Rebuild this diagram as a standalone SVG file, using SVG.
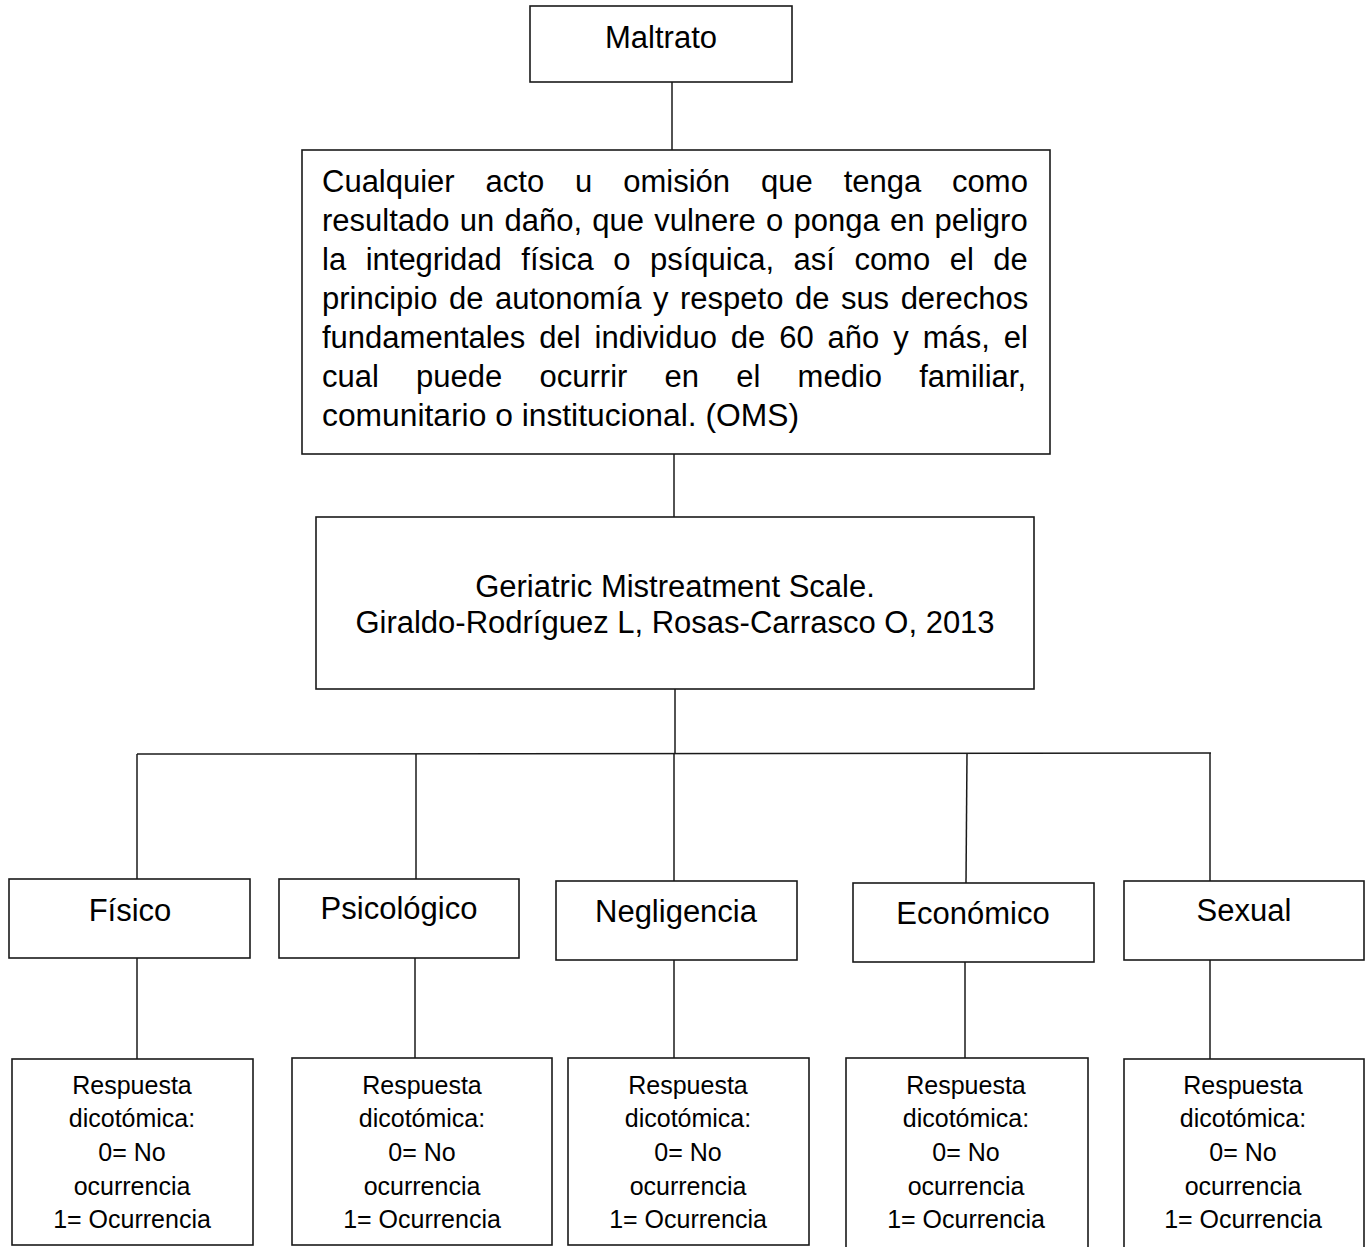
<svg xmlns="http://www.w3.org/2000/svg" width="1367" height="1247" viewBox="0 0 1367 1247">
<style>
.box{fill:#fff;stroke:#1a1a1a;stroke-width:1.6}
.ln{stroke:#1a1a1a;stroke-width:1.5;fill:none}
.t{font-family:"Liberation Sans",Arial,sans-serif;fill:#000}
.big{font-size:31px}
.mid{text-anchor:middle}
.sm{font-size:25px;text-anchor:middle}
</style>
<rect width="1367" height="1247" fill="#fff"/>
<g id="connectors">
<line class="ln" x1="672" y1="82" x2="672" y2="150"/>
<line class="ln" x1="674" y1="454" x2="674" y2="517"/>
<line class="ln" x1="675" y1="689" x2="675" y2="753"/>
<line class="ln" x1="137" y1="754" x2="1211" y2="753"/>
<line class="ln" x1="137" y1="754" x2="137" y2="879"/>
<line class="ln" x1="416" y1="754" x2="416" y2="879"/>
<line class="ln" x1="674" y1="753" x2="674" y2="881"/>
<line class="ln" x1="967" y1="753" x2="966" y2="883"/>
<line class="ln" x1="1210" y1="753" x2="1210" y2="881"/>
<line class="ln" x1="137" y1="958" x2="137" y2="1059"/>
<line class="ln" x1="415" y1="958" x2="415" y2="1058"/>
<line class="ln" x1="674" y1="960" x2="674" y2="1058"/>
<line class="ln" x1="965" y1="962" x2="965" y2="1058"/>
<line class="ln" x1="1210" y1="960" x2="1210" y2="1059"/>
</g>
<g id="maltrato">
<rect class="box" x="530" y="6" width="262" height="76"/>
<text class="t big mid" x="661" y="48">Maltrato</text>
</g>
<g id="definicion">
<rect class="box" x="302" y="150" width="748" height="304"/>
<g class="t big">
<text x="322" y="192" word-spacing="22.3">Cualquier acto u omisión que tenga como</text>
<text x="322" y="231" word-spacing="1.6">resultado un daño, que vulnere o ponga en peligro</text>
<text x="322" y="270" word-spacing="10.9">la integridad física o psíquica, así como el de</text>
<text x="322" y="309" word-spacing="2.9">principio de autonomía y respeto de sus derechos</text>
<text x="322" y="348" word-spacing="5.3">fundamentales del individuo de 60 año y más, el</text>
<text x="322" y="387" word-spacing="28.6">cual puede ocurrir en el medio familiar,</text>
<text x="322" y="426" textLength="477" lengthAdjust="spacingAndGlyphs">comunitario o institucional. (OMS)</text>
</g>
</g>
<g id="escala">
<rect class="box" x="316" y="517" width="718" height="172"/>
<text class="t big mid" x="675" y="597">Geriatric Mistreatment Scale.</text>
<text class="t big mid" x="675" y="633">Giraldo-Rodríguez L, Rosas-Carrasco O, 2013</text>
</g>
<g id="fisico">
<rect class="box" x="9" y="879" width="241" height="79"/>
<text class="t big mid" x="130" y="921">Físico</text>
</g>
<g id="psicologico">
<rect class="box" x="279" y="879" width="240" height="79"/>
<text class="t big mid" x="399" y="919">Psicológico</text>
</g>
<g id="negligencia">
<rect class="box" x="556" y="881" width="241" height="79"/>
<text class="t big mid" x="676" y="922">Negligencia</text>
</g>
<g id="economico">
<rect class="box" x="853" y="883" width="241" height="79"/>
<text class="t big mid" x="973" y="924">Económico</text>
</g>
<g id="sexual">
<rect class="box" x="1124" y="881" width="240" height="79"/>
<text class="t big mid" x="1244" y="921">Sexual</text>
</g>
<g id="resp-fisico">
<rect class="box" x="12" y="1059" width="241" height="186"/>
<text class="t sm" x="132"><tspan x="132" y="1094">Respuesta</tspan><tspan x="132" y="1127">dicotómica:</tspan><tspan x="132" y="1161">0= No</tspan><tspan x="132" y="1195">ocurrencia</tspan><tspan x="132" y="1228">1= Ocurrencia</tspan></text>
</g>
<g id="resp-psicologico">
<rect class="box" x="292" y="1058" width="260" height="187"/>
<text class="t sm" x="422"><tspan x="422" y="1094">Respuesta</tspan><tspan x="422" y="1127">dicotómica:</tspan><tspan x="422" y="1161">0= No</tspan><tspan x="422" y="1195">ocurrencia</tspan><tspan x="422" y="1228">1= Ocurrencia</tspan></text>
</g>
<g id="resp-negligencia">
<rect class="box" x="568" y="1058" width="241" height="187"/>
<text class="t sm" x="688"><tspan x="688" y="1094">Respuesta</tspan><tspan x="688" y="1127">dicotómica:</tspan><tspan x="688" y="1161">0= No</tspan><tspan x="688" y="1195">ocurrencia</tspan><tspan x="688" y="1228">1= Ocurrencia</tspan></text>
</g>
<g id="resp-economico">
<rect class="box" x="846" y="1058" width="242" height="200"/>
<text class="t sm" x="966"><tspan x="966" y="1094">Respuesta</tspan><tspan x="966" y="1127">dicotómica:</tspan><tspan x="966" y="1161">0= No</tspan><tspan x="966" y="1195">ocurrencia</tspan><tspan x="966" y="1228">1= Ocurrencia</tspan></text>
</g>
<g id="resp-sexual">
<rect class="box" x="1124" y="1059" width="240" height="200"/>
<text class="t sm" x="1243"><tspan x="1243" y="1094">Respuesta</tspan><tspan x="1243" y="1127">dicotómica:</tspan><tspan x="1243" y="1161">0= No</tspan><tspan x="1243" y="1195">ocurrencia</tspan><tspan x="1243" y="1228">1= Ocurrencia</tspan></text>
</g>
</svg>
